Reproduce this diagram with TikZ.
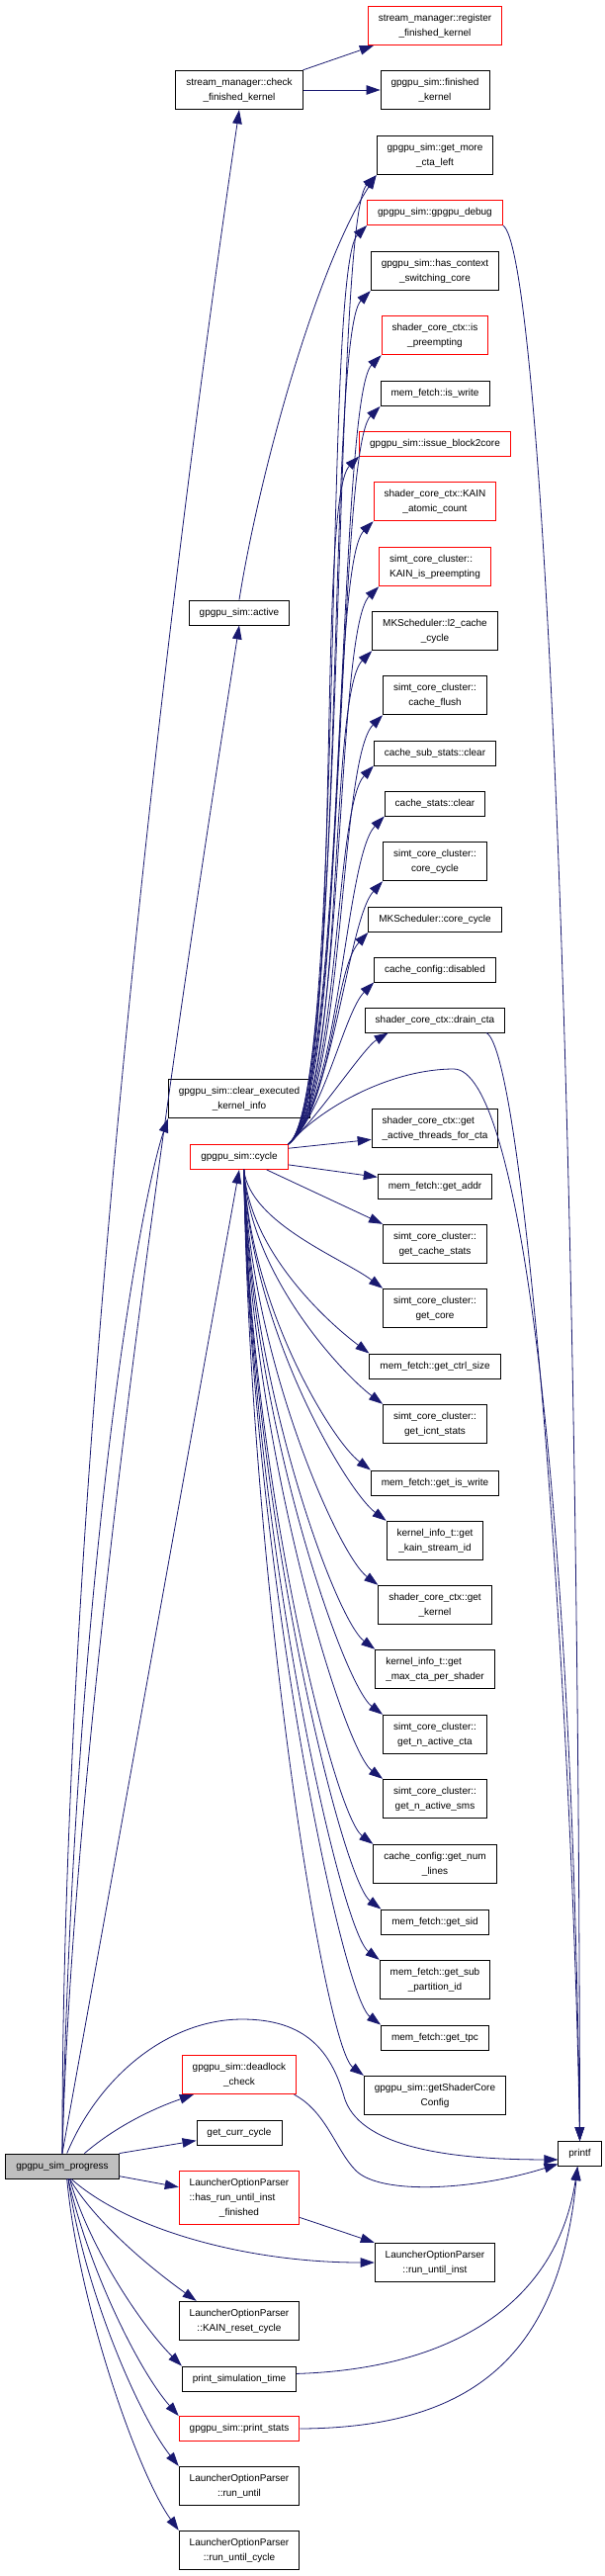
\documentclass[tikz,border=0pt]{standalone}
\usepackage{fontspec}
\setmainfont{Liberation Sans}
\usetikzlibrary{arrows.meta}
\definecolor{edgeblue}{RGB}{25,25,112}
\definecolor{rootgray}{RGB}{191,191,191}

\begin{document}
\begin{tikzpicture}[x=1pt, y=-1pt,
  fn/.style={draw=black, line width=0.9pt, align=center, font=\fontsize{10}{15}\selectfont,
             minimum height=25pt, inner xsep=10.5pt, inner ysep=2pt},
  trunc/.style={fn, draw=red},
  root/.style={fn, fill=rootgray},
  two/.style={minimum height=39.5pt},
  three/.style={minimum height=54.5pt},
  arr/.style={-{Triangle[length=14pt, width=9.5pt]}, draw=edgeblue, line width=0.8pt}]
\path[use as bounding box, fill=white] (0,0) rectangle (612,2605);
\node[root] (progress) at (63,2190.5) {gpgpu\_sim\_progress};
\node[fn] (printf) at (586.5,2178) {printf};
\node[fn, two] (check) at (242,91) {stream\_manager::check\\\_finished\_kernel};
\node[fn] (active) at (242,619.5) {gpgpu\_sim::active};
\node[fn, two] (clearexec) at (242,1111) {gpgpu\_sim::clear\_executed\\\_kernel\_info};
\node[trunc] (cycle) at (242,1170) {gpgpu\_sim::cycle};
\node[trunc, two] (deadlock) at (242,2098) {gpgpu\_sim::deadlock\\\_check};
\node[fn] (currcycle) at (242,2157) {get\_curr\_cycle};
\node[trunc, three, align=left] (hasrun) at (242,2222.5) {LauncherOptionParser\\::has\_run\_until\_inst\\\hspace*{0pt plus 1fil}\_finished};
\node[fn, two] (kainreset) at (242,2347) {LauncherOptionParser\\::KAIN\_reset\_cycle};
\node[fn] (simtime) at (242,2405.5) {print\_simulation\_time};
\node[trunc] (printstats) at (242,2456) {gpgpu\_sim::print\_stats};
\node[fn, two] (rununtil) at (242,2514) {LauncherOptionParser\\::run\_until};
\node[fn, two] (runcycle) at (242,2579) {LauncherOptionParser\\::run\_until\_cycle};
\node[trunc, two] (register) at (440,26) {stream\_manager::register\\\_finished\_kernel};
\node[fn, two] (finished) at (440,91) {gpgpu\_sim::finished\\\_kernel};
\node[fn, two] (getmore) at (440,157) {gpgpu\_sim::get\_more\\\_cta\_left};
\node[trunc] (debug) at (440,215) {gpgpu\_sim::gpgpu\_debug};
\node[fn, two] (hasctx) at (440,274) {gpgpu\_sim::has\_context\\\_switching\_core};
\node[trunc, two] (ispre) at (440,339) {shader\_core\_ctx::is\\\_preempting};
\node[fn] (iswrite) at (440,398) {mem\_fetch::is\_write};
\node[trunc] (issue) at (440,448.5) {gpgpu\_sim::issue\_block2core};
\node[trunc, two] (atomic) at (440,507) {shader\_core\_ctx::KAIN\\\_atomic\_count};
\node[trunc, two, align=left] (kainpre) at (440,573) {simt\_core\_cluster::\\KAIN\_is\_preempting};
\node[fn, two] (ltwo) at (440,638) {MKScheduler::l2\_cache\\\_cycle};
\node[fn, two] (flush) at (440,703) {simt\_core\_cluster::\\cache\_flush};
\node[fn] (subclear) at (440,761.5) {cache\_sub\_stats::clear};
\node[fn] (statsclear) at (440,812.5) {cache\_stats::clear};
\node[fn, two] (corecycle) at (440,871) {simt\_core\_cluster::\\core\_cycle};
\node[fn] (mkcore) at (440,930) {MKScheduler::core\_cycle};
\node[fn] (disabled) at (440,980.5) {cache\_config::disabled};
\node[fn] (drain) at (440,1031.5) {shader\_core\_ctx::drain\_cta};
\node[fn, two, align=left] (threads) at (440,1141) {shader\_core\_ctx::get\\\_active\_threads\_for\_cta};
\node[fn] (addr) at (440,1199.5) {mem\_fetch::get\_addr};
\node[fn, two] (cachestats) at (440,1258) {simt\_core\_cluster::\\get\_cache\_stats};
\node[fn, two] (getcore) at (440,1323) {simt\_core\_cluster::\\get\_core};
\node[fn] (ctrl) at (440,1381.5) {mem\_fetch::get\_ctrl\_size};
\node[fn, two] (icnt) at (440,1440) {simt\_core\_cluster::\\get\_icnt\_stats};
\node[fn] (getiswrite) at (440,1499.5) {mem\_fetch::get\_is\_write};
\node[fn, two] (streamid) at (440,1558) {kernel\_info\_t::get\\\_kain\_stream\_id};
\node[fn, two] (getkernel) at (440,1623) {shader\_core\_ctx::get\\\_kernel};
\node[fn, two, align=left] (maxcta) at (440,1688) {kernel\_info\_t::get\\\_max\_cta\_per\_shader};
\node[fn, two] (activecta) at (440,1754) {simt\_core\_cluster::\\get\_n\_active\_cta};
\node[fn, two] (activesms) at (440,1819) {simt\_core\_cluster::\\get\_n\_active\_sms};
\node[fn, two] (numlines) at (440,1885) {cache\_config::get\_num\\\_lines};
\node[fn] (sid) at (440,1943.5) {mem\_fetch::get\_sid};
\node[fn, two] (subpart) at (440,2002) {mem\_fetch::get\_sub\\\_partition\_id};
\node[fn] (tpc) at (440,2060.5) {mem\_fetch::get\_tpc};
\node[fn, two] (shadercfg) at (440,2119) {gpgpu\_sim::getShaderCore\\Config};
\node[fn, two] (untilinst) at (440,2288) {LauncherOptionParser\\::run\_until\_inst};
\draw[arr] (check.north east) -- (register.-162);
\draw[arr] (check) -- (finished);
\draw[arr] (active.north) .. controls (262,480) and (320,270) .. (getmore.south west);
\draw[arr] (cycle.north east) .. controls +(58,-42) and +(-45,45) .. (getmore.south west);
\draw[arr] (cycle.north east) .. controls +(58,-42) and +(-45,45) .. (debug.south west);
\draw[arr] (cycle.north east) .. controls +(58,-42) and +(-45,45) .. (hasctx.south west);
\draw[arr] (cycle.north east) .. controls +(58,-42) and +(-45,45) .. (ispre.south west);
\draw[arr] (cycle.north east) .. controls +(58,-42) and +(-45,45) .. (iswrite.south west);
\draw[arr] (cycle.north east) .. controls +(58,-42) and +(-45,45) .. (issue.south west);
\draw[arr] (cycle.north east) .. controls +(58,-42) and +(-45,45) .. (atomic.south west);
\draw[arr] (cycle.north east) .. controls +(58,-42) and +(-45,45) .. (kainpre.south west);
\draw[arr] (cycle.north east) .. controls +(58,-42) and +(-45,45) .. (ltwo.south west);
\draw[arr] (cycle.north east) .. controls +(58,-42) and +(-45,45) .. (flush.south west);
\draw[arr] (cycle.north east) .. controls +(52,-40) and +(-40,42) .. (subclear.south west);
\draw[arr] (cycle.north east) .. controls +(52,-40) and +(-40,42) .. (statsclear.south west);
\draw[arr] (cycle.north east) .. controls +(45,-36) and +(-35,38) .. (corecycle.south west);
\draw[arr] (cycle.north east) .. controls +(45,-36) and +(-35,38) .. (mkcore.south west);
\draw[arr] (cycle.north east) .. controls +(36,-30) and +(-30,30) .. (disabled.south west);
\draw[arr] (cycle.north east) .. controls +(28,-24) and +(-25,15) .. ([xshift=24pt]drain.south west);
\draw[arr] (cycle.north east) .. controls (330,1115) and (400,1081) .. (459,1081) .. controls (525,1081) and (578,1500) .. (printf.north);
\draw[arr] (cycle.10) -- (threads.190);
\draw[arr] (cycle.-9) -- (addr.171);
\draw[arr] (cycle.-25) -- (cachestats.north west);
\draw[arr] (cycle.-70) .. controls +(6,54) and +(-40,-30) .. (getcore.north west);
\draw[arr] (cycle.-70) .. controls +(6,84) and +(-40,-30) .. (ctrl.north west);
\draw[arr] (cycle.-70) .. controls +(6,107) and +(-40,-30) .. (icnt.north west);
\draw[arr] (cycle.-70) .. controls +(6,137) and +(-40,-30) .. (getiswrite.north west);
\draw[arr] (cycle.-70) .. controls +(6,160) and +(-40,-30) .. (streamid.north west);
\draw[arr] (cycle.-70) .. controls +(6,189) and +(-40,-30) .. (getkernel.north west);
\draw[arr] (cycle.-70) .. controls +(6,218) and +(-40,-30) .. (maxcta.north west);
\draw[arr] (cycle.-70) .. controls +(6,248) and +(-40,-30) .. (activecta.north west);
\draw[arr] (cycle.-70) .. controls +(6,277) and +(-40,-30) .. (activesms.north west);
\draw[arr] (cycle.-70) .. controls +(6,307) and +(-40,-30) .. (numlines.north west);
\draw[arr] (cycle.-70) .. controls +(6,337) and +(-40,-30) .. (sid.north west);
\draw[arr] (cycle.-70) .. controls +(6,360) and +(-40,-30) .. (subpart.north west);
\draw[arr] (cycle.-70) .. controls +(6,389) and +(-40,-30) .. (tpc.north west);
\draw[arr] (cycle.-70) .. controls +(6,412) and +(-40,-30) .. (shadercfg.north west);
\draw[arr] (debug.south east) .. controls (545,250) and (585,1000) .. (printf.north);
\draw[arr] (drain.-14) .. controls (530,1062) and (578,1700) .. (printf.north);
\draw[arr] (progress.north) .. controls (62,1500) and (170,600) .. (check.south);
\draw[arr] (progress.north) .. controls (75,1700) and (200,900) .. (active.south);
\draw[arr] (progress.north) .. controls (75,1600) and (140,1220) .. (clearexec.south west);
\draw[arr] (progress.north) -- (cycle.south);
\draw[arr] (progress.70) .. controls (100,2100) and (170,2042) .. (245,2042) .. controls (310,2042) and (335,2075) .. (348,2120) .. controls (362,2170) and (450,2184) .. (printf.195);
\draw[arr] (progress.30) .. controls +(35,-30) and +(-35,12) .. ([xshift=12pt]deadlock.south west);
\draw[arr] (progress.north east) -- (currcycle.190);
\draw[arr] (progress.-10) -- (hasrun.170);
\draw[arr] (progress.-55) .. controls (130,2255) and (250,2288) .. (untilinst.west);
\draw[arr] (progress.-60) .. controls +(30,50) and +(-35,-25) .. (kainreset.155);
\draw[arr] (progress.-60) .. controls +(20,70) and +(-40,-40) .. (simtime.north west);
\draw[arr] (progress.-65) .. controls +(20,90) and +(-40,-45) .. (printstats.north west);
\draw[arr] (progress.-65) .. controls +(15,110) and +(-40,-50) .. (rununtil.north west);
\draw[arr] (progress.-70) .. controls +(12,130) and +(-40,-55) .. (runcycle.north west);
\draw[arr] (deadlock.-20) .. controls (330,2135) and (340,2175) .. (360,2195) .. controls (385,2220) and (480,2215) .. (printf.205);
\draw[arr] (hasrun.-18) -- (untilinst.north west);
\draw[arr] (simtime.5) .. controls (470,2395) and (565,2320) .. (printf.-100);
\draw[arr] (printstats.east) .. controls (470,2455) and (565,2390) .. (printf.-100);
\end{tikzpicture}
\end{document}
